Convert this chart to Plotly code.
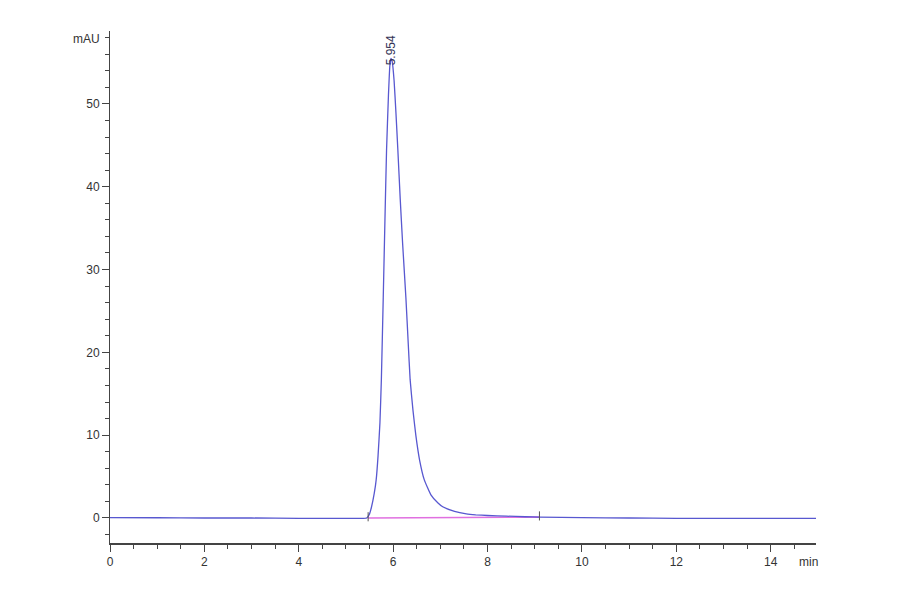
import plotly.graph_objects as go

# Chromatogram signal (time in min, absorbance in mAU)
time_min = [0, 1, 2, 3, 4, 5, 5.3, 5.44, 5.50, 5.54, 5.60, 5.64, 5.68, 5.72, 5.75,
            5.79, 5.83, 5.86, 5.90, 5.93, 5.954, 5.98, 6.02, 6.06, 6.10, 6.15, 6.20,
            6.27, 6.32, 6.36, 6.42, 6.48, 6.56, 6.66, 6.80, 6.95, 7.05, 7.30, 7.55,
            7.75, 8.0, 8.4, 8.8, 9.1, 10, 11, 12, 13, 14, 15]
signal_mau = [0.05, 0.03, 0.0, 0.0, -0.05, -0.05, -0.05, 0.0, 0.5, 1.3, 3.0, 4.6, 7.5,
              11.5, 16.7, 26.6, 37.0, 44.4, 51.0, 54.6, 55.5, 55.1, 52.8, 48.8, 44.4,
              38.5, 33.2, 26.6, 21.0, 16.7, 13.0, 10.0, 7.0, 4.6, 2.8, 1.8, 1.35, 0.8,
              0.5, 0.38, 0.3, 0.22, 0.15, 0.1, 0.05, 0.0, -0.05, -0.05, -0.05, -0.05]

# Integration baseline of the peak
baseline_t = [5.47, 9.1]
baseline_v = [0.0, 0.1]

# Peak annotation
peak_rt = 5.954
peak_height = 55.5
peak_label = "5.954"

x_ticks = [0, 2, 4, 6, 8, 10, 12, 14]
y_ticks = [0, 10, 20, 30, 40, 50]

font_family = "Liberation Sans Narrow, Arial Narrow, Liberation Sans, sans-serif"
axis_color = "#444444"

fig = go.Figure()
fig.add_trace(go.Scatter(x=baseline_t, y=baseline_v, mode="lines",
                         line=dict(color="#e070e0", width=1.6),
                         hoverinfo="skip", showlegend=False))
fig.add_trace(go.Scatter(x=time_min, y=signal_mau, mode="lines",
                         line=dict(color="#5858d0", width=1.3, shape="spline", smoothing=0.4),
                         hoverinfo="skip", showlegend=False))
# small integration marks at start/end of baseline
for t, v in zip(baseline_t, baseline_v):
    fig.add_trace(go.Scatter(x=[t, t], y=[v - 0.4, v + 0.7], mode="lines",
                             line=dict(color="#555555", width=1),
                             hoverinfo="skip", showlegend=False))

fig.add_annotation(x=peak_rt, y=peak_height, text=peak_label, textangle=-90,
                   showarrow=False, xanchor="center", yanchor="bottom", yshift=-9,
                   font=dict(family=font_family, size=12, color="#333355"))

fig.add_annotation(xref="paper", yref="paper", x=1.0, y=0, text="min",
                   showarrow=False, xanchor="right", yanchor="top", yshift=-10, xshift=4,
                   font=dict(family=font_family, size=12, color="#333333"))
fig.add_annotation(xref="paper", yref="paper", x=0, y=1.0, text="mAU",
                   showarrow=False, xanchor="right", yanchor="middle", xshift=-8, yshift=-8,
                   font=dict(family=font_family, size=12, color="#333333"))

# page body adds an 8px offset; margins compensate so the plot area sits at
# x 110..816, y 31..543 in the 900x594 window
fig.update_layout(
    width=900, height=594,
    margin=dict(l=102, r=92, t=23, b=59),
    paper_bgcolor="white", plot_bgcolor="white",
    font=dict(family=font_family, size=12, color="#333333"),
    xaxis=dict(range=[0, 14.96], tickvals=x_ticks, showgrid=False, zeroline=False,
               showline=True, linecolor=axis_color, linewidth=2,
               ticks="outside", ticklen=7, tickcolor=axis_color, tickwidth=1,
               minor=dict(dtick=0.5, ticks="outside", ticklen=4, tickcolor=axis_color, showgrid=False)),
    yaxis=dict(range=[-3.02, 58.8], tickvals=y_ticks, showgrid=False, zeroline=False,
               showline=True, linecolor=axis_color, linewidth=1,
               ticks="outside", ticklen=7, tickcolor=axis_color, tickwidth=1,
               minor=dict(dtick=2, ticks="outside", ticklen=4, tickcolor=axis_color, showgrid=False)),
)

fig.write_html("out.html")
